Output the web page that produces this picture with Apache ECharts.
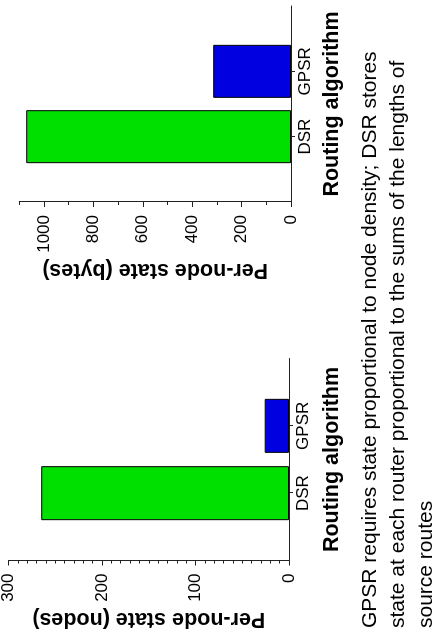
<!DOCTYPE html>
<html>
<head>
<meta charset="utf-8">
<script src="https://cdn.jsdelivr.net/npm/echarts@6/dist/echarts.min.js"></script>
<style>
  html, body { margin: 0; padding: 0; background: #fff; }
  body { width: 441px; height: 642px; overflow: hidden; position: relative; }
  /* the figure is a landscape page turned on its side */
  #main {
    position: absolute; left: 0; top: 0;
    width: 642px; height: 441px;
    transform-origin: 0 0;
    transform: translate(0, 642px) rotate(-90deg);
  }
</style>
</head>
<body>
<div id="main"></div>
<script>
const categories = ["DSR", "GPSR"];
const nodesValues = [265, 26];
const bytesValues = [1072, 315];
const barColors = ["#00e000", "#0000e0"];
const nodesTicks = [0, 100, 200, 300];
const bytesTicks = [0, 200, 400, 600, 800, 1000];
const bytesMinorTicks = [100, 300, 500, 700, 900, 1100];
const captionLines = [
  "GPSR requires state proportional to node density; DSR stores",
  "state at each router proportional to the sums of the lengths of",
  "source routes"
];

const font = "'Liberation Sans', Arial, Helvetica, sans-serif";
const ink = "#000";
const axisColor = "#222";

// empty slots at both ends put the bars at 1/3 and 2/3 of the axis
const axisCats = ["", ...categories, ""];

function barData(values) {
  return ["-", ...values.map((v, i) => ({
    value: v,
    itemStyle: {color: barColors[i]}
  })), "-"];
}

function catAxis(gridIndex, nameGap) {
  return {
    type: "category",
    gridIndex: gridIndex,
    data: axisCats,
    boundaryGap: false,
    axisLine: {lineStyle: {color: axisColor, width: 1}},
    axisTick: {
      length: 4,
      interval: (i, v) => v !== "",
      lineStyle: {color: axisColor}
    },
    axisLabel: {interval: 0, margin: 6, fontSize: 17, color: ink, fontFamily: font},
    name: "Routing algorithm",
    nameLocation: "middle",
    nameGap: nameGap,
    nameTextStyle: {fontSize: 21.5, fontWeight: "bold", color: ink, fontFamily: font}
  };
}

const chart = echarts.init(document.getElementById("main"));

chart.setOption({
  animation: false,
  grid: [
    {left: 81.5, top: 7.3, width: 202, height: 281.7},
    {left: 440, top: 19.3, width: 196, height: 271.7}
  ],
  xAxis: [catAxis(0, 32), catAxis(1, 30)],
  yAxis: [
    {
      type: "value",
      gridIndex: 0,
      min: 0,
      max: 300,
      interval: 100,
      axisLine: {show: true, lineStyle: {color: axisColor, width: 1}},
      axisTick: {show: true, length: 5, customValues: nodesTicks, lineStyle: {color: axisColor}},
      minorTick: {show: true, splitNumber: 10, length: 3, lineStyle: {color: axisColor}},
      splitLine: {show: false},
      axisLabel: {
        margin: 13, fontSize: 17, color: ink, fontFamily: font,
        customValues: nodesTicks, formatter: v => String(v)
      },
      name: "Per-node state (nodes)",
      nameLocation: "middle",
      nameGap: 47,
      nameTextStyle: {fontSize: 21.5, fontWeight: "bold", color: ink, fontFamily: font}
    },
    {
      type: "value",
      gridIndex: 1,
      position: "left",
      min: 0,
      max: 1100,
      interval: 100,
      axisLine: {show: true, lineStyle: {color: axisColor, width: 1}},
      axisTick: {show: true, length: 5, customValues: bytesTicks, lineStyle: {color: axisColor}},
      splitLine: {show: false},
      axisLabel: {
        margin: 13, fontSize: 17, color: ink, fontFamily: font,
        customValues: bytesTicks, formatter: v => String(v)
      },
      name: "Per-node state (bytes)",
      nameLocation: "middle",
      nameGap: 57,
      nameTextStyle: {fontSize: 21.5, fontWeight: "bold", color: ink, fontFamily: font}
    },
    {
      // short ticks at the odd hundreds
      type: "value",
      gridIndex: 1,
      position: "left",
      min: 0,
      max: 1100,
      interval: 100,
      axisLine: {show: false},
      axisTick: {show: true, length: 3, customValues: bytesMinorTicks, lineStyle: {color: axisColor}},
      splitLine: {show: false},
      axisLabel: {show: false}
    }
  ],
  series: [
    {
      type: "bar",
      xAxisIndex: 0,
      yAxisIndex: 0,
      barWidth: 54,
      data: barData(nodesValues),
      itemStyle: {borderColor: "#000", borderWidth: 1},
      silent: true
    },
    {
      type: "bar",
      xAxisIndex: 1,
      yAxisIndex: 1,
      barWidth: 53,
      data: barData(bytesValues),
      itemStyle: {borderColor: "#000", borderWidth: 1},
      silent: true
    }
  ],
  graphic: [
    {
      type: "text",
      left: 14,
      top: 356,
      style: {
        text: captionLines.join("\n"),
        fontSize: 21,
        fontFamily: font,
        lineHeight: 28,
        fill: ink
      }
    }
  ]
});
</script>
</body>
</html>
